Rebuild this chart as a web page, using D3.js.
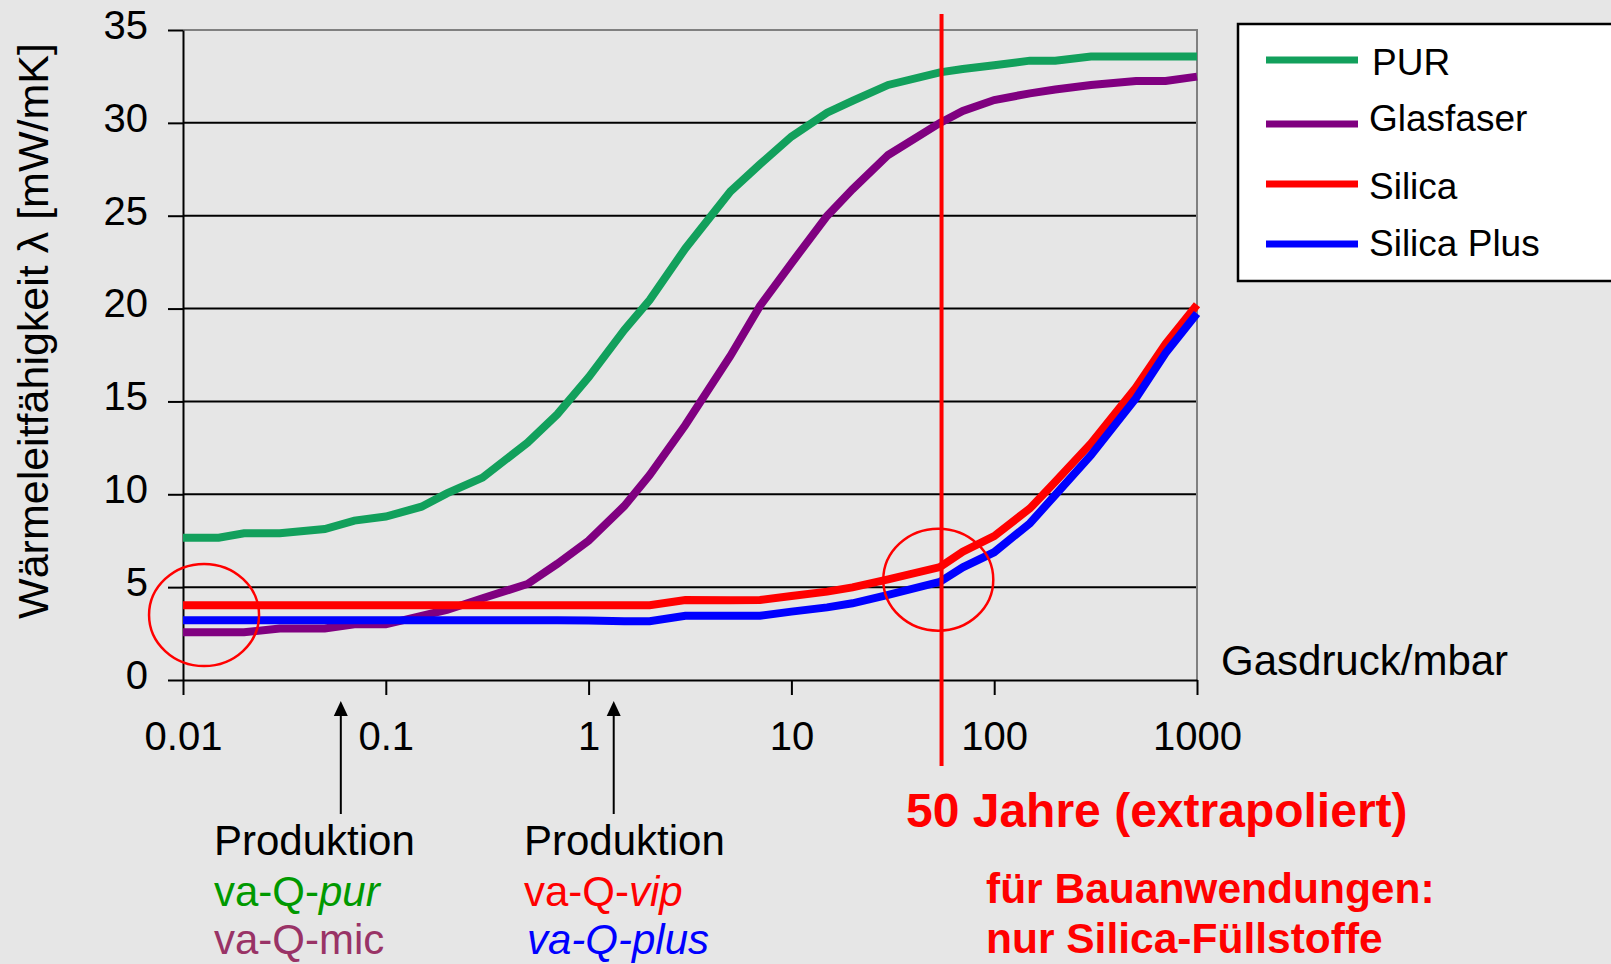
<!DOCTYPE html>
<html>
<head>
<meta charset="utf-8">
<script src="https://cdn.jsdelivr.net/npm/d3@7"></script>
<style>
  body { margin: 0; background: #e6e6e6; }
  svg { display: block; font-family: "Liberation Sans", Arial, sans-serif; }
  .axis text { font-size: 40px; fill: #000; }
  .axis line, .axis path { stroke: #000; stroke-width: 2; }
</style>
</head>
<body>
<svg id="chart"></svg>
<script>
// gas pressure in mbar (x values of every series)
const pressure = [0.01, 0.015, 0.02, 0.03, 0.05, 0.07, 0.1, 0.15, 0.2, 0.3, 0.5, 0.7,
    1, 1.5, 2, 3, 5, 7, 10, 15, 20, 30, 54, 70, 100, 150, 200, 300, 500, 700, 1000];

// thermal conductivity in mW/mK
const pur = [7.66, 7.66, 7.9, 7.9, 8.13, 8.58, 8.8, 9.33, 10.05, 10.9, 12.78, 14.3,
    16.3, 18.85, 20.46, 23.24, 26.3, 27.77, 29.26, 30.55, 31.18, 32.04, 32.72, 32.9, 33.1, 33.35, 33.35, 33.57, 33.57, 33.57, 33.57];
const glasfaser = [2.57, 2.57, 2.57, 2.77, 2.77, 3.0, 3.0, 3.45, 3.77, 4.4, 5.17, 6.25,
    7.5, 9.37, 11.04, 13.73, 17.45, 20.14, 22.44, 24.99, 26.42, 28.27, 30.0, 30.64, 31.23, 31.59, 31.8, 32.04, 32.25, 32.25, 32.49];
const silica = [4.03, 4.03, 4.03, 4.03, 4.03, 4.03, 4.03, 4.03, 4.03, 4.03, 4.03, 4.03,
    4.03, 4.03, 4.03, 4.31, 4.3, 4.31, 4.52, 4.76, 4.99, 5.42, 6.08, 6.91, 7.75, 9.24, 10.68, 12.74, 15.75, 18.1, 20.2];
const silicaPlus = [3.22, 3.22, 3.22, 3.22, 3.22, 3.22, 3.22, 3.22, 3.22, 3.22, 3.22, 3.22,
    3.2, 3.17, 3.17, 3.46, 3.46, 3.46, 3.68, 3.91, 4.13, 4.58, 5.29, 6.07, 6.88, 8.44, 9.96, 12.1, 15.17, 17.6, 19.74];

const seriesNames = ["PUR", "Glasfaser", "Silica", "Silica Plus"];
const seriesColors = ["#12a05c", "#800080", "#ff0000", "#0000ff"];

const xTicks = [0.01, 0.1, 1, 10, 100, 1000];
const xTickLabels = ["0.01", "0.1", "1", "10", "100", "1000"];
const yTicks = [0, 5, 10, 15, 20, 25, 30, 35];

// 50 years line, production markers, highlighted regions
const fiftyYears = 55;
const productionMarks = [0.06, 1.33];
const highlights = [{p: 0.0127, v: 3.5}, {p: 53, v: 5.4}];

const width = 1611, height = 964;
const svg = d3.select("#chart").attr("width", width).attr("height", height);

const x = d3.scaleLog().domain([0.01, 1000]).range([183, 1197]);
const y = d3.scaleLinear().domain([0, 35]).range([680, 30]);

// grid
svg.append("g")
    .selectAll("line")
    .data(yTicks.filter(function (d) { return d > 0 && d < 35; }))
    .enter().append("line")
    .attr("x1", x(0.01)).attr("x2", x(1000))
    .attr("y1", function (d) { return y(d); })
    .attr("y2", function (d) { return y(d); })
    .attr("stroke", "#000").attr("stroke-width", 2);

// plot area border (top + right)
svg.append("path")
    .attr("d", "M" + x(0.01) + "," + y(35) + "H" + x(1000) + "V" + y(0))
    .attr("fill", "none").attr("stroke", "#808080").attr("stroke-width", 2);

// axes
svg.append("g")
    .attr("class", "axis")
    .attr("transform", "translate(" + x(0.01) + ",0)")
    .call(d3.axisLeft(y).tickValues(yTicks).tickSize(15).tickPadding(20).tickSizeOuter(0))
    .selectAll("text").attr("dy", "0.21em");

svg.append("g")
    .attr("class", "axis")
    .attr("transform", "translate(0," + y(0) + ")")
    .call(d3.axisBottom(x).tickValues(xTicks).tickSize(15).tickPadding(27).tickSizeOuter(0)
        .tickFormat(function (d, i) { return xTickLabels[i]; }));

// curves
const series = [pur, glasfaser, silica, silicaPlus];
const line = d3.line()
    .x(function (d) { return x(d[0]); })
    .y(function (d) { return y(d[1]); });

series.forEach(function (vals, i) {
    svg.append("path")
        .datum(pressure.map(function (p, j) { return [p, vals[j]]; }))
        .attr("d", line)
        .attr("fill", "none")
        .attr("stroke", seriesColors[i])
        .attr("stroke-width", 8)
        .attr("stroke-linejoin", "miter");
});

// 50 years vertical line
svg.append("line")
    .attr("x1", x(fiftyYears)).attr("x2", x(fiftyYears))
    .attr("y1", 14).attr("y2", 766)
    .attr("stroke", "#ff0000").attr("stroke-width", 4);

// red circles
svg.selectAll(".hl")
    .data(highlights)
    .enter().append("ellipse")
    .attr("class", "hl")
    .attr("cx", function (d) { return x(d.p); })
    .attr("cy", function (d) { return y(d.v); })
    .attr("rx", 55).attr("ry", 51)
    .attr("fill", "none").attr("stroke", "#ff0000").attr("stroke-width", 2.5);

// axis titles
svg.append("text")
    .attr("transform", "translate(48,331) rotate(-90)")
    .attr("text-anchor", "middle")
    .style("font-size", "43px")
    .text("Wärmeleitfähigkeit λ [mW/mK]");

svg.append("text")
    .attr("x", 1221).attr("y", 675)
    .style("font-size", "42px")
    .text("Gasdruck/mbar");

// legend
const legend = svg.append("g");
legend.append("rect")
    .attr("x", 1238).attr("y", 24).attr("width", 420).attr("height", 257)
    .attr("fill", "#fff").attr("stroke", "#000").attr("stroke-width", 2.5);

const legendY = [60, 124, 184, 244];
const legendTextY = [75, 131, 199, 256];
seriesNames.forEach(function (name, i) {
    legend.append("line")
        .attr("x1", 1266).attr("x2", 1358)
        .attr("y1", legendY[i]).attr("y2", legendY[i])
        .attr("stroke", seriesColors[i]).attr("stroke-width", 7);
    legend.append("text")
        .attr("x", i === 0 ? 1372 : 1369).attr("y", legendTextY[i])
        .style("font-size", "37px")
        .text(name);
});

// production arrows
productionMarks.forEach(function (p) {
    const ax = x(p);
    svg.append("line")
        .attr("x1", ax).attr("x2", ax).attr("y1", 814).attr("y2", 714)
        .attr("stroke", "#000").attr("stroke-width", 2);
    svg.append("path")
        .attr("d", "M" + ax + ",701L" + (ax - 7) + ",716L" + (ax + 7) + ",716Z")
        .attr("fill", "#000");
});

// production labels
function label(xp, yp, parts, color, size, weight) {
    const t = svg.append("text")
        .attr("x", xp).attr("y", yp)
        .style("font-size", size + "px")
        .style("font-weight", weight || "normal")
        .attr("fill", color);
    parts.forEach(function (p) {
        t.append("tspan").style("font-style", p[1] ? "italic" : "normal").text(p[0]);
    });
}

label(214, 855, [["Produktion", false]], "#000", 42);
label(214, 906, [["va-Q-", false], ["pur", true]], "#009900", 42);
label(214, 954, [["va-Q-mic", false]], "#993366", 42);
label(524, 855, [["Produktion", false]], "#000", 42);
label(524, 906, [["va-Q-", false], ["vip", true]], "#ff0000", 42);
label(527, 954, [["va-Q-plus", true]], "#0000ff", 42);

label(906, 827, [["50 Jahre (extrapoliert)", false]], "#ff0000", 48, "bold");
label(986, 903, [["für Bauanwendungen:", false]], "#ff0000", 42.5, "bold");
label(986, 953, [["nur Silica-Füllstoffe", false]], "#ff0000", 42.5, "bold");
</script>
</body>
</html>
